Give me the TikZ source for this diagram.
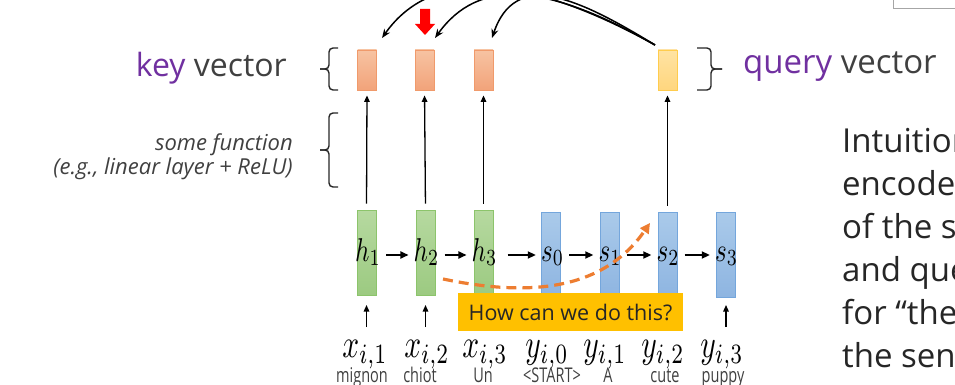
\documentclass[tikz,border=0pt]{standalone}
\usepackage{graphicx}
\usepackage{fontspec}
\setmainfont{Open Sans}
\usetikzlibrary{arrows.meta}
\definecolor{keytop}{HTML}{F7C3A2}
\definecolor{keybot}{HTML}{F2A37A}
\definecolor{keyedge}{HTML}{F09A6B}
\definecolor{qtop}{HTML}{FFE3A3}
\definecolor{qbot}{HTML}{FFD67E}
\definecolor{qedge}{HTML}{FFCC4D}
\definecolor{gtop}{HTML}{B6D9A0}
\definecolor{gbot}{HTML}{9CCA81}
\definecolor{gedge}{HTML}{8CC46B}
\definecolor{btop}{HTML}{AACAEA}
\definecolor{bbot}{HTML}{8EB5E1}
\definecolor{bedge}{HTML}{74A6DC}
\definecolor{purp}{HTML}{7030A0}
\definecolor{txt}{HTML}{404040}
\definecolor{dark}{HTML}{262626}
\definecolor{howfill}{HTML}{FFC000}
\definecolor{dashor}{HTML}{ED7D31}
\newcommand{\hlab}[1]{\scalebox{2.5}[3.3]{$#1$}}
\newcommand{\xlab}[1]{\scalebox{2.95}[4.0]{$#1$}}
\newcommand{\wlab}[1]{\scalebox{1}[1.4]{\fontsize{14.5pt}{15pt}\selectfont #1}}
\begin{document}
\begin{tikzpicture}[x=1pt,y=-1pt,
  keybox/.style={draw=keyedge, top color=keytop, bottom color=keybot, line width=0.8pt, minimum width=19pt, minimum height=40pt, inner sep=0pt},
  qbox/.style={draw=qedge, top color=qtop, bottom color=qbot, line width=0.8pt, minimum width=19pt, minimum height=40pt, inner sep=0pt},
  gbox/.style={draw=gedge, top color=gtop, bottom color=gbot, line width=0.8pt, minimum width=19pt, minimum height=85pt, inner sep=0pt},
  bbox/.style={draw=bedge, top color=btop, bottom color=bbot, line width=0.8pt, minimum width=19pt, minimum height=85pt, inner sep=0pt},
  mlab/.style={anchor=base, inner sep=0pt},
  wordlab/.style={anchor=base, inner sep=0pt, text=txt},
  harr/.style={line width=1.7pt, -{Triangle[length=8pt,width=7pt]}, shorten <=5pt, shorten >=5pt},
  varr/.style={line width=1.3pt, -{Triangle[length=6.5pt,width=5.5pt]}},
  curv/.style={line width=1.5pt, -{Stealth[length=9pt,width=7pt]}},
  bracestyle/.style={line width=1.4pt, rounded corners=4pt, draw=dark},
  bigtxt/.style={text=txt, inner sep=0pt},
  ittxt/.style={font=\fontsize{22pt}{26pt}\selectfont\itshape, text=txt, inner sep=0pt, anchor=base east},
  righttxt/.style={font=\fontsize{33pt}{40pt}\selectfont, text=dark, inner sep=0pt, anchor=base west}]
\useasboundingbox (0,0) rectangle (955,385);

% top-right partial box
\draw[draw=black!35, line width=1pt] (893,-5) rectangle (962,9);

% key / query boxes
\node[keybox] (k1) at (367,70) {};
\node[keybox] (k2) at (424.5,70) {};
\node[keybox] (k3) at (483.5,70) {};
\node[qbox] (q) at (667.5,70) {};

% hidden state boxes
\node[gbox] (h1) at (366.5,252.5) {};
\node[gbox] (h2) at (425.5,252.5) {};
\node[gbox] (h3) at (483.5,252.5) {};
\node[bbox] (s0) at (551,254.5) {};
\node[bbox] (s1) at (609.5,254.5) {};
\node[bbox] (s2) at (667.5,254.5) {};
\node[bbox] (s3) at (726,254.5) {};

% labels in boxes
\node[mlab] (lh1) at (368,261) {\hlab{h_1}};
\node[mlab] (lh2) at (426.5,261) {\hlab{h_2}};
\node[mlab] (lh3) at (484.5,261) {\hlab{h_3}};
\node[mlab] (ls0) at (552.5,261) {\hlab{s_0}};
\node[mlab] (ls1) at (610,261) {\hlab{s_1}};
\node[mlab] (ls2) at (668,261) {\hlab{s_2}};
\node[mlab] (ls3) at (726.5,261) {\hlab{s_3}};

% horizontal arrows
\draw[harr] (lh1.east |- 0,255) -- (lh2.west |- 0,255);
\draw[harr] (lh2.east |- 0,255) -- (lh3.west |- 0,255);
\draw[harr] ([xshift=5pt]lh3.east |- 0,255) -- (ls0.west |- 0,255);
\draw[harr] (ls0.east |- 0,255) -- (ls1.west |- 0,255);
\draw[harr] (ls1.east |- 0,255) -- (ls2.west |- 0,255);
\draw[harr] (ls2.east |- 0,255) -- (ls3.west |- 0,255);

% vertical arrows to key/query
\draw[varr, shorten <=6pt, shorten >=5pt] (h1.north) -- (k1.south);
\draw[varr, shorten <=6pt, shorten >=5pt] (h2.north) -- (k2.south);
\draw[varr, shorten <=6pt, shorten >=5pt] (h3.north) -- (k3.south);
\draw[varr, shorten <=6pt, shorten >=5pt] (s2.north) -- (q.south);

% input labels
\node[mlab] (x1) at (365,357) {\xlab{x_{i,1}}};
\node[mlab] (x2) at (427,357) {\xlab{x_{i,2}}};
\node[mlab] (x3) at (485,357) {\xlab{x_{i,3}}};
\node[mlab] (y0) at (547,357) {\xlab{y_{i,0}}};
\node[mlab] (y1) at (605,357) {\xlab{y_{i,1}}};
\node[mlab] (y2) at (663,357) {\xlab{y_{i,2}}};
\node[mlab] (y3) at (722,357) {\xlab{y_{i,3}}};

\node[wordlab] (w1) at (362,382) {\wlab{mignon}};
\node[wordlab] (w2) at (420,382) {\wlab{chiot}};
\node[wordlab] (w3) at (483,382) {\wlab{Un}};
\node[wordlab] (w4) at (552,382) {\wlab{<START>}};
\node[wordlab] (w5) at (608,382) {\wlab{A}};
\node[wordlab] (w6) at (665,382) {\wlab{cute}};
\node[wordlab] (w7) at (723,382) {\wlab{puppy}};

% bottom up arrows
\draw[varr] (h1.south |- 0,327) -- (h1.south |- 0,305);
\draw[varr] (h2.south |- 0,327) -- (h2.south |- 0,305);
\draw[varr] (s3.south |- 0,327) -- (s3.south |- 0,305);

% orange dashed curve
\coordinate (ds) at (443,279);
\coordinate (de) at (650,223);
\draw[dashor, line width=3.2pt, dash pattern=on 10pt off 6pt, -{Triangle[length=10pt,width=10pt]}] (ds) .. controls (520,295) and (600,295) .. (de);

% How can we do this box
\node[fill=howfill, minimum width=225pt, minimum height=38pt, inner sep=0pt, text=dark, font=\fontsize{21.5pt}{24pt}\selectfont] (how) at (570.5,312) {How can we do this?};

% top curved arrows
\coordinate (qs) at (655,45);
\coordinate (a1) at (382,38);
\coordinate (a2) at (435,38);
\coordinate (a3) at (492,38);
\draw[curv] (qs) .. controls (520,-30) and (430,-30) .. (a1);
\draw[curv] (qs) .. controls (545,-18) and (478,-22) .. (a2);
\draw[curv] (qs) .. controls (575,-4) and (515,-30) .. (a3);

% red arrow
\fill[red] (420,9) -- (430,9) -- (430,24) -- (435,24) -- (425,35) -- (415,24) -- (420,24) -- cycle;

% braces
\draw[bracestyle] (338,48) -| (329,69) -- (320,69);
\draw[bracestyle] (320,69) -- (329,69) |- (338,90);
\draw[bracestyle] (338,113) -| (329,150) -- (320,150);
\draw[bracestyle] (320,150) -- (329,150) |- (338,187);
\draw[bracestyle] (697,48) -| (711,69) -- (722,69);
\draw[bracestyle] (722,69) -- (711,69) |- (697,90);

% left texts
\node[bigtxt, anchor=base east, font=\fontsize{32pt}{36pt}\selectfont] (keytxt) at (287,77) {\textcolor{purp}{key} vector};
\node[ittxt] (fn1) at (293,150) {some function};
\node[ittxt] (fn2) at (293,174) {(e.g., linear layer + ReLU)};
\node[bigtxt, anchor=base west, font=\fontsize{33pt}{36pt}\selectfont] (qtxt) at (743,74) {\textcolor{purp}{query} vector};

% right texts
\node[righttxt] (r1) at (842,152) {Intuition};
\node[righttxt] (r2) at (842,195) {encoder};
\node[righttxt] (r3) at (842,238) {of the se};
\node[righttxt] (r4) at (842,281) {and quer};
\node[righttxt] (r5) at (842,324) {for “the};
\node[righttxt] (r6) at (842,367) {the sent};
\end{tikzpicture}
\end{document}
